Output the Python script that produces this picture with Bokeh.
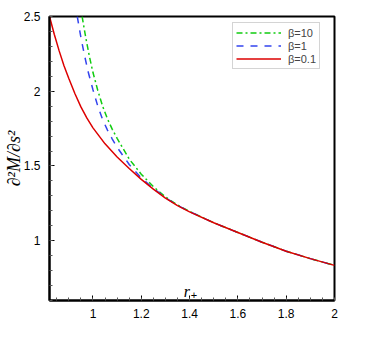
import math
import numpy as np
from bokeh.plotting import figure
from bokeh.models import Range1d, FixedTicker, Legend, LegendItem, Label
from bokeh.embed import file_html
from bokeh.resources import INLINE

# ---- data ----
red_x = [0.82, 0.84, 0.86, 0.88, 0.90, 0.925, 0.95, 0.975, 1.00, 1.05, 1.10, 1.15, 1.20,
         1.25, 1.30, 1.35, 1.40, 1.50, 1.60, 1.70, 1.80, 1.90, 2.00]
red_y = [2.50, 2.38, 2.27, 2.17, 2.085, 1.985, 1.895, 1.82, 1.755, 1.648, 1.56, 1.483, 1.41,
         1.345, 1.285, 1.235, 1.193, 1.12, 1.055, 0.99, 0.93, 0.88, 0.835]

blue_x = [0.935, 0.95, 0.965, 0.98, 1.00, 1.02, 1.04, 1.06, 1.08, 1.10, 1.15, 1.20, 1.25,
          1.30, 1.35, 1.40, 1.50, 1.60, 1.70, 1.80, 1.90, 2.00]
blue_y = [2.50, 2.36, 2.24, 2.13, 2.01, 1.90, 1.81, 1.74, 1.68, 1.625, 1.51, 1.42, 1.35,
          1.288, 1.237, 1.195, 1.12, 1.055, 0.99, 0.93, 0.88, 0.835]

green_x = [0.955, 0.97, 0.985, 1.00, 1.02, 1.04, 1.06, 1.08, 1.10, 1.15, 1.20, 1.25,
           1.30, 1.35, 1.40, 1.50, 1.60, 1.70, 1.80, 1.90, 2.00]
green_y = [2.50, 2.36, 2.235, 2.125, 2.005, 1.90, 1.815, 1.745, 1.685, 1.546, 1.445, 1.362,
           1.293, 1.239, 1.196, 1.12, 1.055, 0.99, 0.93, 0.88, 0.835]

x_ticks = [1.0, 1.2, 1.4, 1.6, 1.8, 2.0]
x_tick_labels = ["1", "1.2", "1.4", "1.6", "1.8", "2"]
y_ticks = [1.0, 1.5, 2.0, 2.5]
y_tick_labels = ["1", "1.5", "2", "2.5"]
legend_labels = ["β=10", "β=1", "β=0.1"]

p = figure(width=374, height=332, title=None,
           x_range=Range1d(0.82, 2.0), y_range=Range1d(0.6, 2.5),
           output_backend="svg", toolbar_location=None,
           min_border_left=48, min_border_right=40,
           min_border_top=16, min_border_bottom=32)

p.xgrid.visible = False
p.ygrid.visible = False
p.outline_line_color = "black"
p.outline_line_width = 2

x_minor = [round(v, 3) for v in np.arange(0.85, 2.0001, 0.05)]
y_minor = [round(v, 3) for v in np.arange(0.6, 2.5001, 0.1)]
p.xaxis.ticker = FixedTicker(ticks=x_ticks, minor_ticks=x_minor)
p.yaxis.ticker = FixedTicker(ticks=y_ticks, minor_ticks=y_minor)
p.xaxis.major_label_overrides = {t: s for t, s in zip(x_ticks, x_tick_labels)}
p.yaxis.major_label_overrides = {t: s for t, s in zip(y_ticks, y_tick_labels)}

for ax in (p.xaxis, p.yaxis):
    ax.axis_line_width = 2
    ax.axis_line_color = "black"
    ax.major_tick_in = 5
    ax.major_tick_out = 0
    ax.minor_tick_in = 3
    ax.minor_tick_out = 0
    ax.major_tick_line_color = "black"
    ax.minor_tick_line_color = "#555555"
    ax.major_label_text_font = "Liberation Sans"
    ax.major_label_text_font_size = "12px"
    ax.major_label_text_color = "black"
p.xaxis.major_label_standoff = 8
p.yaxis.major_label_standoff = 9

p.yaxis.axis_label = "∂²M/∂s²"
p.yaxis.axis_label_standoff = -3
p.yaxis.axis_label_text_font = "Liberation Serif"
p.yaxis.axis_label_text_font_style = "italic"
p.yaxis.axis_label_text_font_size = "18px"
p.yaxis.axis_label_text_color = "black"

g = p.line(green_x, green_y, line_color="#11cc11", line_width=1.5, line_dash="6 3 2 3")
b = p.line(blue_x, blue_y, line_color="#3344ee", line_width=1.5, line_dash="7 7")
r = p.line(red_x, red_y, line_color="#dd0000", line_width=1.5)

legend = Legend(items=[LegendItem(label=legend_labels[0], renderers=[g]),
                       LegendItem(label=legend_labels[1], renderers=[b]),
                       LegendItem(label=legend_labels[2], renderers=[r])],
                location=(183, 231))
legend.border_line_color = "#aaaaaa"
legend.border_line_width = 1.5
legend.background_fill_alpha = 1.0
legend.padding = 3
legend.spacing = 0
legend.margin = 0
legend.label_height = 13
legend.glyph_height = 13
legend.glyph_width = 45
legend.label_standoff = 7
legend.label_text_font = "Liberation Sans"
legend.label_text_font_size = "11px"
p.add_layout(legend)

rlab = Label(x=1.376, y=9.5, x_units="data", y_units="screen", text="r",
             text_align="left", text_baseline="alphabetic",
             text_font="Liberation Serif", text_font_style="italic",
             text_font_size="16px", text_color="black")
plab = Label(x=1.418, y=6, x_units="data", y_units="screen", text="+",
             text_align="center", text_baseline="middle",
             text_font="Liberation Sans", text_font_size="11px", text_color="black")
p.add_layout(rlab)
p.add_layout(plab)

open("out.html", "w").write(file_html(p, INLINE))
